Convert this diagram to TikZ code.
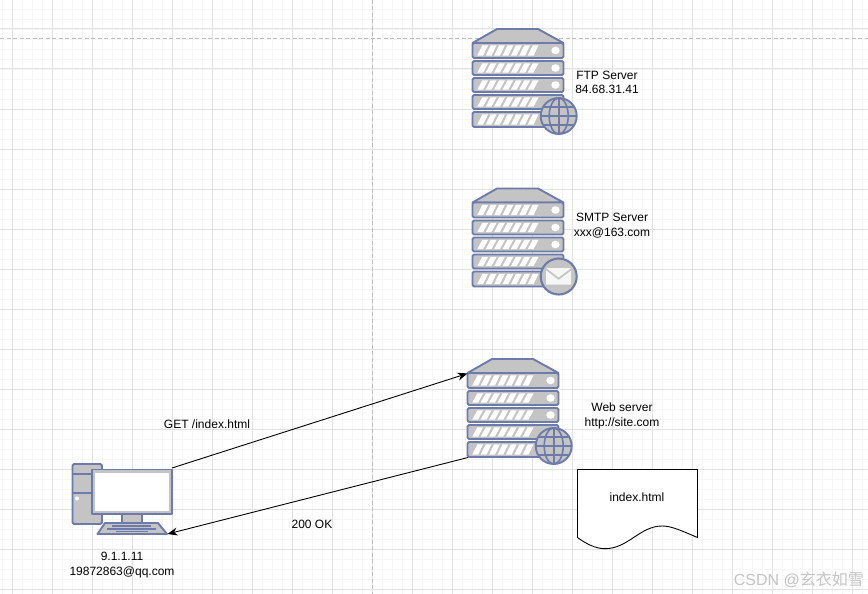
\documentclass[tikz,border=0pt]{standalone}
\usepackage{fontspec}
\usetikzlibrary{arrows.meta}
\setmainfont{Liberation Sans}
\newfontfamily\cjkfam{Noto Sans CJK SC}
\definecolor{srvline}{HTML}{6D7BAA}
\definecolor{srvfill}{HTML}{C4C4C4}
\definecolor{gridmajor}{HTML}{E2E2E2}
\definecolor{gridminor}{HTML}{F6F6F6}
\definecolor{guide}{HTML}{BDBDBD}
\definecolor{wmark}{HTML}{C4C4C4}
\tikzset{
  x=1pt,y=-1pt,
  label text/.style={font=\fontsize{12}{14}\selectfont,text=black,inner sep=0pt,align=center},
  part/.style={draw=srvline,fill=srvfill,line width=1.9pt,line join=round},
  link/.style={draw=black,line width=0.9pt,-{Stealth[length=10pt,width=8pt]}},
  pics/rack/.style={code={
    \path[part,rounded corners=1.5pt] (0.5,0) rectangle (91.5,#1);
    \foreach \k in {0,...,6}{
      \fill[white] ({5.3+\k*8.4},{#1-2.4}) -- ({11.1+\k*8.4},{#1-2.4}) -- ({16.1+\k*8.4},2.4) -- ({10.3+\k*8.4},2.4) -- cycle;
    }
    \fill[white] (83.5,{#1/2}) ellipse[x radius=4.2,y radius=3.8];
  }},
  pics/server/.style={code={
    \path[part] (0.5,14.5) -- (25,0.5) -- (66,0.5) -- (91.5,14.5) -- cycle;
    \pic at (0,14.5) {rack=15};
    \pic at (0,32.5) {rack=14};
    \pic at (0,49.5) {rack=14};
    \pic at (0,66.5) {rack=14};
    \pic at (0,83.5) {rack=15};
  }},
  pics/globe/.style={code={
    \path[part] (0,0) circle[radius=18];
    \begin{scope}[draw=srvline,line width=1.6pt]
      \draw (0,0) ellipse[x radius=9.5,y radius=18];
      \draw (0,-18) -- (0,18);
      \draw (-18,0) -- (18,0);
      \draw (-15.5,-9) -- (15.5,-9);
      \draw (-15.5,9) -- (15.5,9);
    \end{scope}
  }},
  pics/mailbadge/.style={code={
    \path[part,line width=2.1pt] (0,0) circle[radius=18];
    \fill[white!85!srvfill] (-12.5,-8.5) -- (12.5,-8.5) -- (0,1) -- cycle;
    \fill[white!85!srvfill] (-12.5,-6) -- (0,3.5) -- (12.5,-6) -- (12.5,8) -- (-12.5,8) -- cycle;
  }},
}
\begin{document}
\begin{tikzpicture}
\useasboundingbox (0,0) rectangle (868,594);
\fill[white] (0,0) rectangle (868,594);
% grid
\foreach \i in {0,...,86}{\draw[gridminor,line width=0.8pt] ({2+10*\i},0) -- ({2+10*\i},594);}
\foreach \i in {0,...,58}{\draw[gridminor,line width=0.8pt] (0,{9+10*\i}) -- (868,{9+10*\i});}
\foreach \i in {0,...,21}{\draw[gridmajor,line width=1pt] ({12+40*\i},0) -- ({12+40*\i},594);}
\foreach \i in {0,...,14}{\draw[gridmajor,line width=1pt] (0,{29+40*\i}) -- (868,{29+40*\i});}
\draw[guide,line width=0.8pt,dash pattern=on 4pt off 2.5pt] (0,38.5) -- (868,38.5);
\draw[guide,line width=0.8pt,dash pattern=on 4pt off 2.5pt] (372,0) -- (372,594);

% servers
\pic at (472,28.5) {server};
\pic at (558.7,116) {globe};
\pic at (472,188) {server};
\pic at (558.7,276.5) {mailbadge};
\pic at (467,358.5) {server};
\pic at (553.7,446) {globe};

% computer
\path[part,rounded corners=1.5pt] (72.5,464) rectangle (102,524);
\draw[srvline,line width=1.9pt] (72,474) -- (102,474);
\draw[srvline,line width=1.9pt] (72,493) -- (102,493);
\fill[white] (77,498.5) circle[radius=2];
\path[part] (122,514) rectangle (142,523);
\path[part] (105,523) -- (158,523) -- (167,534) -- (97.5,534) -- cycle;
\draw[srvline,line width=1.2pt] (112,526) -- (151,526) (107,529) -- (156,529) (116,531.5) -- (148,531.5);
\path[part] (92,469.5) rectangle (172,514);
\fill[white] (95,472.5) rectangle (169.3,511);

% document
\path[draw=black,fill=white,line width=0.9pt,line join=round]
  (577.5,469.5) -- (697.5,469.5) -- (697.5,537.5)
  .. controls (682,531) and (672,526) .. (662,526)
  .. controls (640,526) and (628,548.7) .. (605,548.7)
  .. controls (595,548.7) and (585,543) .. (577.5,537.5) -- cycle;
\node[label text] (doctext) at (637,497) {index.html};

% connector ends
\coordinate (pcTop) at (172,468);
\coordinate (pcKey) at (167.5,534);
\coordinate (webTop) at (467.5,373.5);
\coordinate (webLow) at (468,457.5);
\draw[link] (pcTop) -- (webTop);
\draw[link] (webLow) -- (pcKey);

% labels
\node[label text] (ftpa) at (607,75) {FTP Server};
\node[label text] (ftpb) at (607,89.5) {84.68.31.41};
\node[label text] (smtpa) at (612,217) {SMTP Server};
\node[label text] (smtpb) at (612,233) {xxx@163.com};
\node[label text] (weba) at (622,407) {Web server};
\node[label text] (webb) at (622,423) {http://site.com};
\node[label text] (get) at (207,424) {GET /index.html};
\node[label text] (ok) at (312,524) {200 OK};
\node[label text] (pca) at (122,556.5) {9.1.1.11};
\node[label text] (pcb) at (122,572.5) {19872863@qq.com};
\node[inner sep=0pt,anchor=east,text=wmark,font=\fontsize{16}{18}\selectfont] (wm) at (864,580) {CSDN @{\cjkfam 玄衣如雪}};
\end{tikzpicture}
\end{document}
